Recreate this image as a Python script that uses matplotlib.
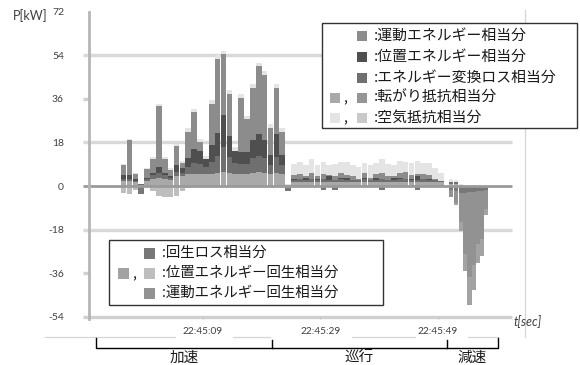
import numpy as np
import matplotlib
matplotlib.use("Agg")
import matplotlib.pyplot as plt
import matplotlib.transforms as mtransforms
from matplotlib.patches import Rectangle
from matplotlib.lines import Line2D

plt.rcParams['font.family'] = ['Noto Sans CJK JP', 'DejaVu Sans']

# ---- data -------------------------------------------------------------
# sample times [s] relative to 22:45:09 (1 s samples, denser while braking)
steady_t = np.arange(-13.5, 41.0, 1.0)
decel_t = [42.2, 43.1, 43.9, 44.6, 45.4, 46.1, 46.8, 47.5, 48.2]

# drive-side components [kW]
rolling = [2, 2, 1.5, 0.5, 2, 3, 3.5, 3, 2.5, 4, 4, 5, 5, 5, 5, 5, 5.5, 6, 5.5, 5, 5, 5, 5.5, 6, 5.5, 5, 5.5, 5,
           0.5, 1.5, 1.5, 1.5, 1.5, 1.5, 1.5, 1.5, 1.5, 1.5, 1.5, 1.5, 1.5, 1.5, 1.5, 1.5, 1.5, 1.5, 1.5, 1.5,
           1.5, 1.5, 1.5, 1.5, 1.5, 1.5, 1.5,
           1, 1, 0.5, 0, 0, 0, 0, 0, 0]
conv_loss = [1, 1, 0.5, 0.5, 1, 1.5, 2, 1.5, 1, 2, 1.5, 3, 4.5, 4, 3, 5, 7, 10, 6.5, 4.5, 4, 4, 6, 6.5, 6, 3.5, 6.5, 3.5,
             0, 1, 1.5, 1, 1.5, 1, 1.5, 1, 1, 1.5, 1, 1, 1, 1.5, 1, 1, 1.5, 1, 1, 1.5, 1.5, 1, 1, 1.5, 1, 1, 0.5,
             0.5, 0.5, 0, 0, 0, 0, 0, 0, 0]
potential = [1.5, 1.5, 1, 0, 0.5, 1, 2.5, 1, 0.5, 2.5, 2, 3.5, 6, 5.5, 3, 7, 9.5, 13.5, 8.5, 5, 5, 5, 7.5, 9, 7.5, 4.5, 9.5, 4.5,
             0, 0.5, 0, 1, 0, 0.5, 0, 1.5, 0, 0.5, 1, 0, 0, 0.5, 0, 1, 0, 0, 1, 0.5, 0, 0.5, 1.5, 0, 0.5, 0, 0,
             0, 0, 0, 0, 0, 0, 0, 0, 0]
kinetic = [4, 14.5, 2, 0, 3.5, 5.5, 25, 5.5, 2.5, 8, 2, 11, 15, 3.5, 0, 17, 30.5, 25, 17.5, 0, 22.5, 13.5, 21.5, 28, 27, 11, 19, 9.5,
           0, 1.5, 2, 0.5, 2.5, 1, 2, 0.5, 1.5, 2, 1, 1.5, 0.5, 2, 1, 1.5, 2.5, 1.5, 0.5, 2, 3, 1.5, 1, 2, 1.5, 0.5, 0,
           0, 0, 0, 0, 0, 0, 0, 0, 0]
air = [0.5, 0.5, 0.5, 0, 0.5, 1, 1, 1, 1, 1, 1, 1.5, 1.5, 1.5, 1.5, 1.5, 1.5, 1.5, 1.5, 1.5, 1.5, 1.5, 1.5, 1.5, 1.5, 1.5, 1.5, 1.5,
       0.5, 4.5, 5, 4.5, 5.5, 4.5, 5, 4, 5, 4.5, 5.5, 4.5, 5, 4, 5, 4.5, 5.5, 5, 4.5, 5, 4, 5, 5.5, 4.5, 5, 4.5, 3.5,
       1.5, 1, 0.5, 0, 0, 0, 0, 0, 0]

# regenerative components [kW, magnitude drawn downward]
regen_loss = [0, 0, 0, 3.5, 0, 0, 0, 0, 0, 0, 0, 0, 0, 0, 0, 0, 0, 0, 0, 0, 0, 0, 0, 0, 0, 0, 0, 0,
              2, 0, 0, 0, 0, 0, 1.5, 0, 1.5, 0, 0, 0, 0, 0, 0, 0, 1.5, 0, 0, 0, 0, 0, 1.5, 0, 0, 0, 0,
              1.5, 2, 3, 3, 2.5, 2.5, 2, 2, 1.5]
kinetic_regen = [0] * 55 + [3, 5, 12, 25, 35, 30, 22, 20, 8]
potential_regen = [3, 3.5, 1.5, 0, 0, 2, 4, 4.5, 4.5, 4, 2, 1, 0, 0, 0, 0, 0, 0, 0, 0, 0, 0, 0, 0, 0, 0, 0, 0,
                   0, 0, 0, 0, 0, 0, 0, 0, 0, 0, 0, 0, 0, 0, 0, 0, 0, 0, 0, 0, 0, 0, 0, 0, 0, 0, 0,
                   0, 1, 3.5, 7, 11.5, 10.5, 8, 7, 2.5]

y_ticks = [-54, -36, -18, 0, 18, 36, 54, 72]
x_ticks = [0, 20, 40]
x_labels = ['22:45:09', '22:45:29', '22:45:49']
phase_bounds = [-18.2, 11.7, 41.5, 50.2]
phase_names = ['加速', '巡行', '減速']

# ---- colours ----------------------------------------------------------
C_KIN = '#8c8c8c'
C_POT = '#4f4f4f'
C_LOSS = '#6f6f6f'
C_ROLL = ('#a9a9a9', '#959595')
C_AIR = ('#e4e4e4', '#c9c9c9')
C_RLOSS = '#777777'
C_PREG = ('#a3a3a3', '#bebebe')
C_KREG = '#929292'

W, H = 580, 365
fig = plt.figure(figsize=(W / 100, H / 100), dpi=100)
fig.patch.set_facecolor('white')


def fx(x):
    return x / W


def fy(y):
    return 1 - y / H


ax = fig.add_axes([fx(89), fy(316.7), (512 - 89) / W, (316.7 - 11.8) / H])
ax.set_facecolor('none')
for s in ax.spines.values():
    s.set_visible(False)
ax.set_xlim(-19.4, 52.6)
ax.set_ylim(-54, 72)

t = np.concatenate([steady_t, decel_t])
width = np.where(t > 41.5, 0.78, 0.96)

# drive side stack
base = np.zeros(len(t))
for vals, col in [(rolling, C_ROLL[0]), (conv_loss, C_LOSS), (potential, C_POT),
                  (kinetic, C_KIN), (air, C_AIR[0])]:
    v = np.asarray(vals, float)
    ax.bar(t, v, width, bottom=base, color=col, linewidth=0, zorder=3)
    base += v

# regeneration side stack
preg_cols = [C_PREG[1] if ti < 41.5 else C_PREG[0] for ti in t]
base = np.zeros(len(t))
for vals, col in [(regen_loss, C_RLOSS), (kinetic_regen, C_KREG), (potential_regen, preg_cols)]:
    v = np.asarray(vals, float)
    ax.bar(t, -v, width, bottom=base, color=col, linewidth=0, zorder=3)
    base -= v

# grid and axis lines
tr = mtransforms.blended_transform_factory(ax.transAxes, ax.transData)
x_in = -6 / 423
for yv, col, lw, z in [(54, '#d9d9d9', 2.4, 1), (18, '#d9d9d9', 2.4, 1), (-18, '#d9d9d9', 2.4, 1),
                       (-54, '#d0d0d0', 2.4, 1), (0, '#9a9a9a', 2.0, 4)]:
    ax.plot([x_in, 1], [yv, yv], transform=tr, color=col, lw=lw, clip_on=False,
            solid_capstyle='butt', zorder=z)
for yv in (36, -36):
    ax.plot([x_in, 0], [yv, yv], transform=tr, color='#d0d0d0', lw=2.4, clip_on=False,
            solid_capstyle='butt', zorder=1)
ax.plot([0, 0], [-55, 72], transform=tr, color='#b5b5b5', lw=2.0, clip_on=False, zorder=4)

ax.set_yticks(y_ticks)
ax.set_yticklabels([str(v) for v in y_ticks], family='Lato', fontsize=7.5, color='#404040')
ax.tick_params(axis='y', length=0, pad=18)
ax.set_xticks(x_ticks)
ax.set_xticklabels(x_labels, family='Lato', fontsize=7.3, color='#404040')
ax.tick_params(axis='x', length=1.5, color='#c4c4c4', pad=6)

fig.text(fx(13), fy(16), 'P[kW]', family='Lato', fontsize=9, color='#404040', va='center', ha='left')
fig.text(fx(514), fy(322), 't[sec]', family='Lato', style='italic', fontsize=9, color='#404040',
         va='center', ha='left')

# outer chart frame
frame_col = '#d6d6d6'
for x0, x1 in [(45, 175), (233, 270), (352, 415), (468, 498)]:
    fig.add_artist(Line2D([fx(x0), fx(x1)], [fy(336.5), fy(336.5)], color=frame_col, lw=0.9, zorder=-1))
fig.add_artist(Line2D([fx(525), fx(525)], [fy(10), fy(337)], color=frame_col, lw=0.9, zorder=-1))

# phase brackets
btr = mtransforms.blended_transform_factory(ax.transData, fig.transFigure)
y_bar, y_end = fy(348), fy(337.5)
ax.plot([phase_bounds[0], phase_bounds[0], phase_bounds[-1], phase_bounds[-1]],
        [y_end, y_bar, y_bar, y_end], transform=btr, color='black', lw=1.0, clip_on=False)
for b in phase_bounds[1:-1]:
    ax.plot([b, b], [fy(339.5), y_bar], transform=btr, color='black', lw=1.0, clip_on=False)
for i, name in enumerate(phase_names):
    mid = (phase_bounds[i] + phase_bounds[i + 1]) / 2
    ax.text(mid, fy(357.5), name, transform=btr, ha='center', va='center', fontsize=10.5,
            color='#1a1a1a', clip_on=False)


def square(cx, cy, col, s=10):
    fig.add_artist(Rectangle((fx(cx - s / 2), fy(cy + s / 2)), s / W, s / H, transform=fig.transFigure,
                             facecolor=col, edgecolor='none', zorder=7))


def legend_box(x0, y0, x1, y1, rows, sq_x, sq_x0, comma_x, txt_x, row_y, s, fs):
    fig.add_artist(Rectangle((fx(x0), fy(y1)), (x1 - x0) / W, (y1 - y0) / H, transform=fig.transFigure,
                             facecolor='white', edgecolor='#333333', lw=1.0, zorder=6))
    for (cols, label), ry in zip(rows, row_y):
        if len(cols) == 2:
            square(sq_x0, ry, cols[0], s)
            fig.text(fx(comma_x), fy(ry + 1), ',', fontsize=10, ha='center', va='center',
                     color='#1a1a1a', zorder=7)
        square(sq_x, ry, cols[-1], s)
        fig.text(fx(txt_x), fy(ry), label, fontsize=fs, ha='left', va='center', color='#1a1a1a', zorder=7)


legend_box(322, 23, 577, 128,
           [((C_KIN,), ':運動エネルギー相当分'),
            ((C_POT,), ':位置エネルギー相当分'),
            ((C_LOSS,), ':エネルギー変換ロス相当分'),
            (C_ROLL, ':転がり抵抗相当分'),
            (C_AIR, ':空気抵抗相当分')],
           362, 335, 345, 374, [36, 57, 77.5, 97.5, 117.5], 10, 10.7)

legend_box(109, 240, 383, 305,
           [((C_RLOSS,), ':回生ロス相当分'),
            (C_PREG, ':位置エネルギー回生相当分'),
            ((C_KREG,), ':運動エネルギー回生相当分')],
           149, 123, 134, 162, [253, 273, 293], 11, 10.4)

fig.savefig('out.png', dpi=100, facecolor='white')
